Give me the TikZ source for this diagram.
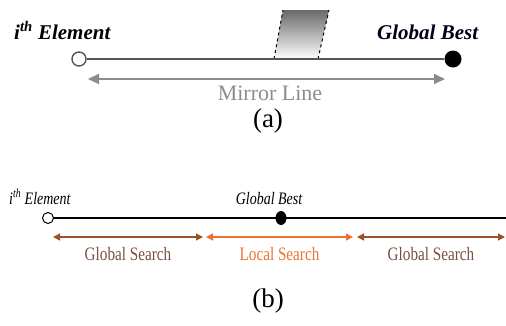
\documentclass[tikz,border=0pt]{standalone}
\usepackage{fontspec}
\setmainfont{Liberation Serif}
\newfontfamily\narrowserif[FakeStretch=0.8]{Liberation Serif}
\usetikzlibrary{arrows.meta,shapes.geometric}
\definecolor{mirrorgray}{RGB}{140,140,140}
\definecolor{linegray}{RGB}{85,85,85}
\definecolor{shadegray}{RGB}{105,105,105}
\definecolor{globalbrown}{RGB}{155,82,40}
\definecolor{globaltext}{RGB}{125,78,66}
\definecolor{localorange}{RGB}{235,115,50}
\tikzset{
  ptopen/.style={circle,draw,fill=white,inner sep=0pt},
  ptbest/.style={circle,fill=black,inner sep=0pt},
  labelbig/.style={inner sep=0pt,font=\fontsize{21}{25}\selectfont\bfseries\itshape},
  labelsmall/.style={inner sep=0pt,font=\fontsize{17.5}{21}\selectfont\narrowserif\itshape},
  caption/.style={inner sep=0pt,font=\fontsize{27}{32}\selectfont},
}
\newcommand{\searcharrow}[6]{
    % Search Range Arrow With Text Below
    % \searcharrow{name}{begin}{end}{arrow color}{text color}{text}
    % example:
    %   \searcharrow{sOne}{sA}{sB}{globalbrown}{globaltext}{Search}
    \draw[{Triangle[length=7pt,width=7pt]}-{Triangle[length=7pt,width=7pt]},
        #4,line width=1.3pt] (#2) -- (#3)
        node (#1) [midway,below=23pt,anchor=base,inner sep=0pt,text=#5,
        font=\fontsize{19}{23}\selectfont\narrowserif] {#6};
}

\begin{document}
\begin{tikzpicture}[x=1pt,y=-1pt]
  \useasboundingbox (0,0) rectangle (506,325);
  % (a) mirror line
  \shade[top color=shadegray,bottom color=white]
      (274,59) -- (283,10) -- (329,10) -- (318,59) -- cycle;
  \draw[dashed,line width=1pt] (274,59) -- (283,10) (318,59) -- (329,10);
  \node (elemA) [ptopen,draw=linegray,line width=1.4pt,minimum size=14pt] at (79,59) {};
  \node (bestA) [ptbest,minimum size=17pt] at (453,59) {};
  \draw[linegray,line width=2pt] (elemA) -- (bestA);
  \node (elemAText) [labelbig,anchor=base west] at (14,39) {i\textsuperscript{th} Element};
  \node (bestAText) [labelbig,anchor=base west,text=black!90!blue] at (377,39) {Global Best};
  \coordinate (mirrorW) at (88,79);
  \coordinate (mirrorE) at (445,79);
  \draw[{Triangle[length=11pt,width=10pt]}-{Triangle[length=11pt,width=10pt]},
      mirrorgray,line width=2pt] (mirrorW) -- (mirrorE);
  \node (mirrorText) [inner sep=0pt,anchor=base,text=mirrorgray,
      font=\fontsize{22}{26}\selectfont] at (270,100) {Mirror Line};
  \node (capA) [caption] at (268,121) {(a)};

  % (b) search ranges
  \node (elemB) [ptopen,line width=1pt,minimum size=11pt] at (48,218) {};
  \coordinate (lineEnd) at (506,218);
  \draw[line width=1.2pt] (elemB) -- (lineEnd);
  \node (bestB) [ellipse,fill=black,inner sep=0pt,minimum width=11pt,minimum height=14pt] at (281,218) {};
  \node (elemBText) [labelsmall,anchor=base west] at (9,204) {i\textsuperscript{th} Element};
  \node (bestBText) [labelsmall,anchor=base] at (269,204) {Global Best};
  \coordinate (sA) at (53,237);
  \coordinate (sB) at (203,237);
  \coordinate (sC) at (206,237);
  \coordinate (sD) at (353,237);
  \coordinate (sE) at (357,237);
  \coordinate (sF) at (505,237);
  \searcharrow{searchOne}{sA}{sB}{globalbrown}{globaltext}{Global Search}
  \searcharrow{searchTwo}{sC}{sD}{localorange}{localorange}{Local Search}
  \searcharrow{searchThree}{sE}{sF}{globalbrown}{globaltext}{Global Search}
  \node (capB) [caption] at (268,301) {(b)};
\end{tikzpicture}
\end{document}
